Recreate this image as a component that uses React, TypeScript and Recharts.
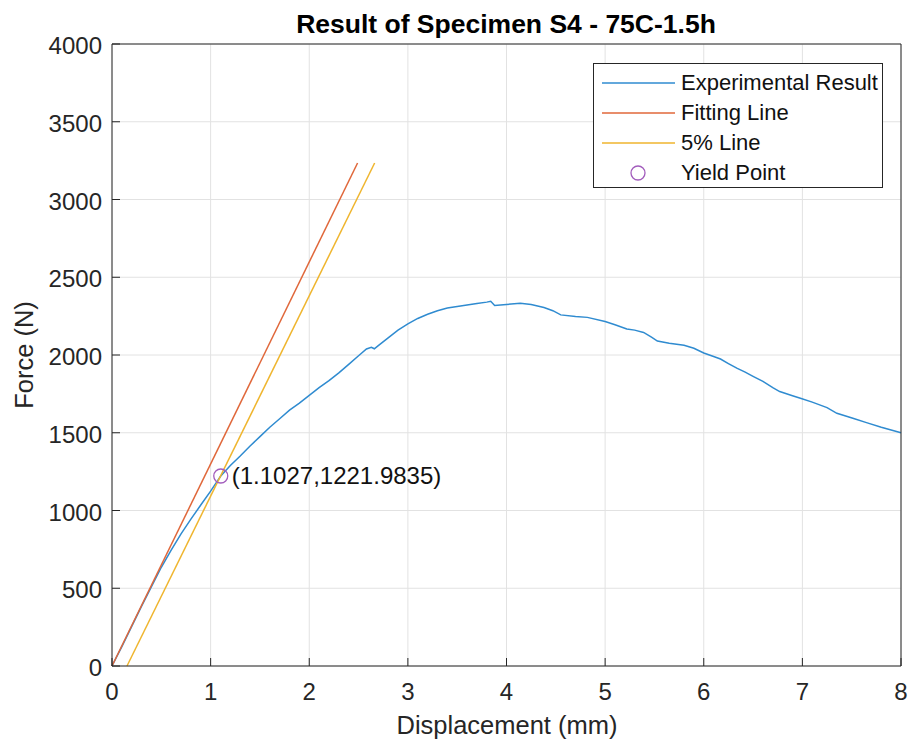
import React from "react";
import {
  ComposedChart,
  Line,
  Scatter,
  XAxis,
  YAxis,
  CartesianGrid,
  Legend,
} from "recharts";

// ---------- data ----------
const xTicks = [0, 1, 2, 3, 4, 5, 6, 7, 8];
const yTicks = [0, 500, 1000, 1500, 2000, 2500, 3000, 3500, 4000];

const experimental = [
  { x: 0, y: 0 }, { x: 0.1, y: 125 }, { x: 0.2, y: 255 }, { x: 0.3, y: 385 },
  { x: 0.4, y: 510 }, { x: 0.5, y: 635 }, { x: 0.6, y: 745 }, { x: 0.7, y: 850 },
  { x: 0.8, y: 945 }, { x: 0.9, y: 1035 }, { x: 1.0, y: 1125 }, { x: 1.1027, y: 1222 },
  { x: 1.2, y: 1290 }, { x: 1.3, y: 1350 }, { x: 1.4, y: 1415 }, { x: 1.5, y: 1475 },
  { x: 1.6, y: 1535 }, { x: 1.7, y: 1590 }, { x: 1.8, y: 1645 }, { x: 1.9, y: 1690 },
  { x: 2.0, y: 1740 }, { x: 2.1, y: 1790 }, { x: 2.2, y: 1835 }, { x: 2.3, y: 1885 },
  { x: 2.4, y: 1940 }, { x: 2.5, y: 1995 }, { x: 2.58, y: 2039 }, { x: 2.63, y: 2050 },
  { x: 2.66, y: 2040 }, { x: 2.7, y: 2060 }, { x: 2.8, y: 2110 }, { x: 2.9, y: 2160 },
  { x: 3.0, y: 2200 }, { x: 3.1, y: 2235 }, { x: 3.2, y: 2262 }, { x: 3.3, y: 2285 },
  { x: 3.4, y: 2302 }, { x: 3.5, y: 2312 }, { x: 3.6, y: 2322 }, { x: 3.7, y: 2331 },
  { x: 3.8, y: 2340 }, { x: 3.84, y: 2345 }, { x: 3.88, y: 2318 }, { x: 4.0, y: 2325 },
  { x: 4.14, y: 2333 }, { x: 4.25, y: 2325 }, { x: 4.38, y: 2305 }, { x: 4.47, y: 2285 },
  { x: 4.55, y: 2258 }, { x: 4.7, y: 2248 }, { x: 4.82, y: 2242 }, { x: 5.0, y: 2215 },
  { x: 5.1, y: 2195 }, { x: 5.22, y: 2167 }, { x: 5.3, y: 2160 }, { x: 5.39, y: 2145 },
  { x: 5.47, y: 2115 }, { x: 5.53, y: 2090 }, { x: 5.65, y: 2075 }, { x: 5.8, y: 2062 },
  { x: 5.9, y: 2043 }, { x: 6.0, y: 2013 }, { x: 6.1, y: 1990 }, { x: 6.17, y: 1974 },
  { x: 6.25, y: 1945 }, { x: 6.34, y: 1914 }, { x: 6.42, y: 1890 }, { x: 6.5, y: 1863 },
  { x: 6.6, y: 1830 }, { x: 6.7, y: 1790 }, { x: 6.77, y: 1765 }, { x: 6.9, y: 1738 },
  { x: 6.98, y: 1722 }, { x: 7.1, y: 1697 }, { x: 7.25, y: 1662 }, { x: 7.35, y: 1625 },
  { x: 7.52, y: 1592 }, { x: 7.65, y: 1565 }, { x: 7.8, y: 1535 }, { x: 8.0, y: 1500 },
];

const fittingLine = [
  { x: 0, y: 0 },
  { x: 2.49, y: 3235 },
];

const fivePercentLine = [
  { x: 0.152, y: 0 },
  { x: 2.663, y: 3235 },
];

const yieldPoint = [{ x: 1.1027, y: 1221.9835 }];

const seriesNames = ["Experimental Result", "Fitting Line", "5% Line", "Yield Point"];
const titleText = "Result of Specimen S4 - 75C-1.5h";
const xLabelText = "Displacement (mm)";
const yLabelText = "Force (N)";

// ---------- styles ----------
const FONT = "'Liberation Sans', Arial, Helvetica, sans-serif";
const AX = "#262626";
const GRID = "#e2e2e2";
const C_BLUE = "#2f8bd0";
const C_ORANGE = "#e0673a";
const C_YELLOW = "#efb52e";
const C_PURPLE = "#a25cbc";
const colors = [C_BLUE, C_ORANGE, C_YELLOW, C_PURPLE];

const W = 910;
const H = 744;
const M = { top: 43, right: 8, bottom: 77, left: 52 };
const YW = 60;
const TICK_LEN = 8;
const TICK_FS = 24;

const XTickBottom = (p: any) => (
  <g>
    <line x1={p.x} x2={p.x} y1={p.y} y2={p.y - TICK_LEN} stroke={AX} strokeWidth={1} />
    <text x={p.x} y={p.y + 34} textAnchor="middle" fontSize={TICK_FS} fill={AX} fontFamily={FONT}>
      {p.payload.value}
    </text>
  </g>
);

const XTickTop = (p: any) => (
  <line x1={p.x} x2={p.x} y1={p.y} y2={p.y + TICK_LEN} stroke={AX} strokeWidth={1} />
);

const YTickLeft = (p: any) => (
  <g>
    <line x1={p.x} x2={p.x + TICK_LEN} y1={p.y} y2={p.y} stroke={AX} strokeWidth={1} />
    <text x={p.x - 10} y={p.y + 10} textAnchor="end" fontSize={TICK_FS} fill={AX} fontFamily={FONT}>
      {p.payload.value}
    </text>
  </g>
);

const YTickRight = (p: any) => (
  <line x1={p.x} x2={p.x - TICK_LEN} y1={p.y} y2={p.y} stroke={AX} strokeWidth={1} />
);

const YieldShape = (p: any) => {
  const pt = yieldPoint[0];
  return (
    <g>
      <circle cx={p.cx} cy={p.cy} r={7} fill="none" stroke={C_PURPLE} strokeWidth={1.3} />
      <text x={p.cx + 11} y={p.cy + 8.5} fontSize={24} fill="#111" fontFamily={FONT}>
        {`(${pt.x},${pt.y})`}
      </text>
    </g>
  );
};

const LegendBox = () => (
  <div
    style={{
      width: 290,
      height: 125,
      boxSizing: "border-box",
      border: `1px solid ${AX}`,
      background: "#fff",
      paddingTop: 4,
      fontFamily: FONT,
      fontSize: 22,
      color: "#111",
    }}
  >
    {seriesNames.map((name, i) => (
      <div key={name} style={{ height: 30, display: "flex", alignItems: "center" }}>
        <svg width={87} height={30} style={{ flex: "none" }}>
          {i < 3 ? (
            <line x1={8} x2={81} y1={15} y2={15} stroke={colors[i]} strokeWidth={1.5} />
          ) : (
            <circle cx={44} cy={15} r={7} fill="none" stroke={colors[i]} strokeWidth={1.3} />
          )}
        </svg>
        <span style={{ whiteSpace: "nowrap" }}>{name}</span>
      </div>
    ))}
  </div>
);

export default function App() {
  return (
    <div style={{ position: "absolute", left: 0, top: 0, width: W, height: H, background: "#fff", fontFamily: FONT }}>
      <div
        style={{
          position: "absolute",
          left: 0,
          width: 1012,
          top: 11,
          textAlign: "center",
          fontSize: 26.5,
          lineHeight: "26px",
          fontWeight: "bold",
          color: "#000",
          whiteSpace: "nowrap",
        }}
      >
        {titleText}
      </div>
      <ComposedChart width={W} height={H} margin={M}>
        <CartesianGrid stroke={GRID} strokeWidth={1} />
        <XAxis
          dataKey="x"
          type="number"
          domain={[0, 8]}
          ticks={xTicks}
          height={1}
          tickSize={0}
          tickMargin={0}
          tickLine={false}
          tick={XTickBottom}
          axisLine={{ stroke: AX, strokeWidth: 1 }}
          interval={0}
        />
        <XAxis
          xAxisId="top"
          orientation="top"
          dataKey="x"
          type="number"
          domain={[0, 8]}
          ticks={xTicks}
          height={1}
          tickSize={0}
          tickMargin={0}
          tickLine={false}
          tick={XTickTop}
          axisLine={{ stroke: AX, strokeWidth: 1 }}
          interval={0}
        />
        <YAxis
          type="number"
          domain={[0, 4000]}
          ticks={yTicks}
          width={YW}
          tickSize={0}
          tickMargin={0}
          tickLine={false}
          tick={YTickLeft}
          axisLine={{ stroke: AX, strokeWidth: 1 }}
          interval={0}
        />
        <YAxis
          yAxisId="right"
          orientation="right"
          type="number"
          domain={[0, 4000]}
          ticks={yTicks}
          width={1}
          tickSize={0}
          tickMargin={0}
          tickLine={false}
          tick={YTickRight}
          axisLine={{ stroke: AX, strokeWidth: 1 }}
          interval={0}
        />
        <Legend
          layout="vertical"
          align="center"
          verticalAlign="middle"
          content={LegendBox}
          wrapperStyle={{ left: 593, top: 63, width: 290, height: 125 }}
        />
        <Line
          data={experimental}
          dataKey="y"
          name={seriesNames[0]}
          stroke={C_BLUE}
          strokeWidth={1.5}
          dot={false}
          isAnimationActive={false}
        />
        <Line
          data={fittingLine}
          dataKey="y"
          name={seriesNames[1]}
          stroke={C_ORANGE}
          strokeWidth={1.5}
          dot={false}
          isAnimationActive={false}
        />
        <Line
          data={fivePercentLine}
          dataKey="y"
          name={seriesNames[2]}
          stroke={C_YELLOW}
          strokeWidth={1.5}
          dot={false}
          isAnimationActive={false}
        />
        <Scatter
          data={yieldPoint}
          dataKey="y"
          name={seriesNames[3]}
          shape={YieldShape}
          isAnimationActive={false}
        />
      </ComposedChart>
      <div
        style={{
          position: "absolute",
          left: 0,
          width: 1014,
          top: 712,
          textAlign: "center",
          fontSize: 25.5,
          lineHeight: "26px",
          color: AX,
          whiteSpace: "nowrap",
        }}
      >
        {xLabelText}
      </div>
      <div
        style={{
          position: "absolute",
          left: 24,
          top: 355,
          transform: "translate(-50%, -50%) rotate(-90deg)",
          fontSize: 25.5,
          lineHeight: "26px",
          color: AX,
          whiteSpace: "nowrap",
        }}
      >
        {yLabelText}
      </div>
    </div>
  );
}
